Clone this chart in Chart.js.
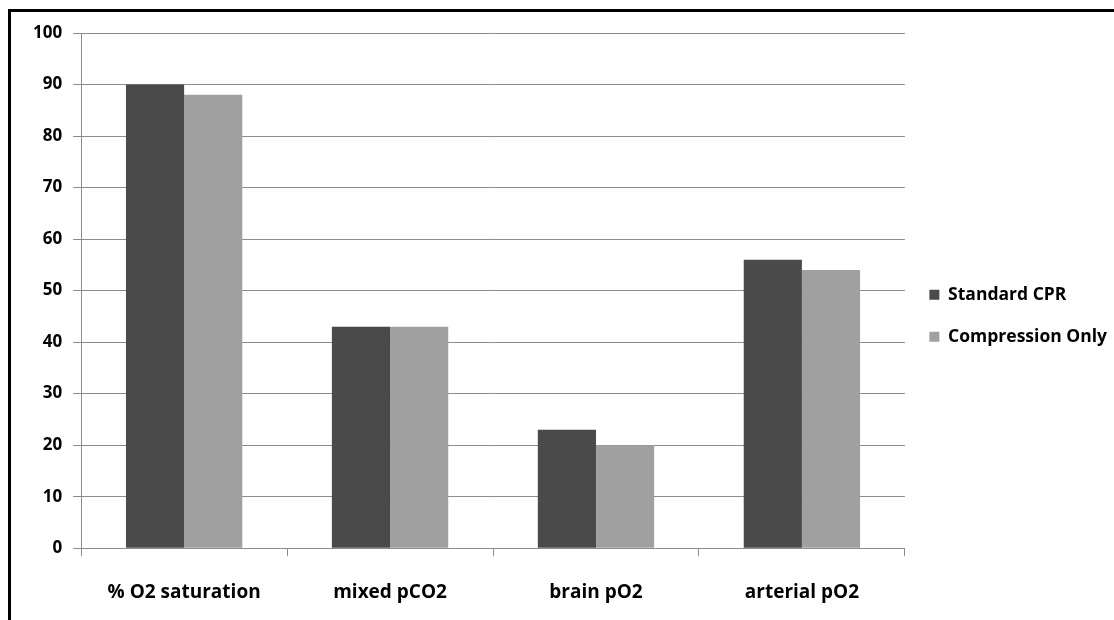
<!DOCTYPE html>
<html>
<head>
<meta charset="utf-8">
<script src="https://cdn.jsdelivr.net/npm/chart.js@4/dist/chart.umd.min.js"></script>
<style>
  html, body { margin: 0; padding: 0; background: #fff; }
  #wrap { position: relative; width: 1114px; height: 620px; }
  #frame { position: absolute; left: 8px; top: 9px; right: 0; bottom: 0;
           border-top: 3px solid #000; border-left: 3px solid #000; pointer-events: none; }
</style>
</head>
<body>
<div id="wrap">
  <canvas id="myChart" width="1114" height="620"></canvas>
  <div id="frame"></div>
</div>
<script>
// data
const categories = ['% O2 saturation', 'mixed pCO2', 'brain pO2', 'arterial pO2'];
const standardCPR = [90, 43, 23, 56];
const compressionOnly = [88, 43, 20, 54];
const yTicks = [0, 10, 20, 30, 40, 50, 60, 70, 80, 90, 100];

const FONT = '"Open Sans", Lato, sans-serif';

const setupChart = () => {
  const ctx = document.getElementById('myChart').getContext('2d');
  new Chart(ctx, {
    type: 'bar',
    data: {
      labels: categories,
      datasets: [
        { label: 'Standard CPR', data: standardCPR, backgroundColor: '#4a4a4a' },
        { label: 'Compression Only', data: compressionOnly, backgroundColor: '#a0a0a0' }
      ]
    },
    options: {
      responsive: false,
      animation: false,
      devicePixelRatio: 1,
      datasets: { bar: { barPercentage: 1, categoryPercentage: 0.565 } },
      layout: { padding: { top: 33, left: 22, right: -3, bottom: -9 } },
      plugins: {
        tooltip: { enabled: false },
        legend: {
          position: 'right',
          fullSize: false,
          // empty title only nudges the entries down a bit
          title: { display: true, text: '', padding: { top: 0, bottom: 36 } },
          labels: {
            boxWidth: 10, boxHeight: 10, padding: 24.5, color: '#000',
            font: { family: FONT, size: 17.5, weight: 'bold' }
          }
        }
      },
      scales: {
        x: {
          grid: { offset: true, drawOnChartArea: false, drawTicks: true, tickLength: 8, color: '#8c8c8c' },
          border: { color: '#8c8c8c' },
          ticks: { color: '#000', padding: 25, font: { family: FONT, size: 19, weight: 'bold' } }
        },
        y: {
          min: 0, max: 100,
          afterBuildTicks: (axis) => { axis.ticks = yTicks.map(v => ({ value: v })); },
          grid: { color: '#8c8c8c', tickLength: 8 },
          border: { color: '#8c8c8c' },
          ticks: { color: '#000', padding: 11, font: { family: FONT, size: 17, weight: 'bold' } }
        }
      }
    }
  });
};

setupChart();
</script>
</body>
</html>
